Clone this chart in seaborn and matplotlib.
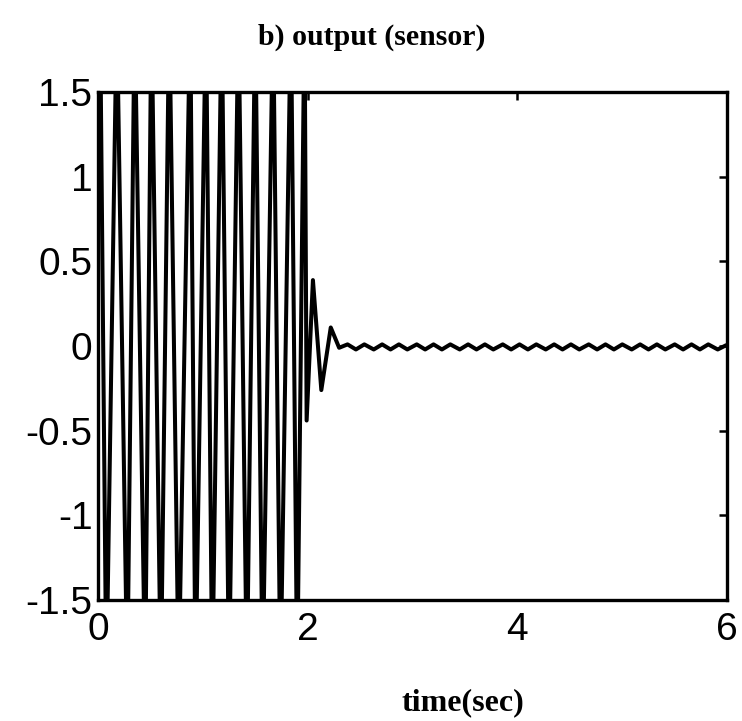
import numpy as np
import pandas as pd
import matplotlib
matplotlib.use("Agg")
import matplotlib.pyplot as plt
import seaborn as sns

# turning points (time in sec, sensor output)
# forced oscillation 0 - 2 sec (peaks clipped by the axis limits)
osc_t = [0.00, 0.02, 0.08, 0.18, 0.28, 0.35, 0.45, 0.51, 0.60, 0.68, 0.77, 0.88, 0.93,
         1.03, 1.09, 1.18, 1.25, 1.34, 1.42, 1.50, 1.57, 1.67, 1.74, 1.84, 1.90, 1.97]
osc_v = [0.90, 2.00, -2.00, 2.00, -2.00, 2.00, -2.00, 2.00, -2.00, 2.00, -2.00, 2.00, -2.00,
         2.00, -2.00, 2.00, -2.00, 2.00, -2.00, 2.00, -2.00, 2.00, -2.00, 2.00, -2.00, 2.00]

# transient after control switches on
tr_t = [1.99, 2.05, 2.13, 2.22, 2.30]
tr_v = [-0.44, 0.39, -0.26, 0.11, -0.01]

# small residual ripple
rip_t = [2.38, 2.46, 2.54, 2.63, 2.71, 2.79, 2.87, 2.95, 3.04, 3.12, 3.20, 3.28, 3.36,
         3.45, 3.53, 3.61, 3.69, 3.77, 3.86, 3.94, 4.02, 4.10, 4.18, 4.27, 4.35, 4.43,
         4.51, 4.59, 4.68, 4.76, 4.84, 4.92, 5.00, 5.09, 5.17, 5.25, 5.33, 5.41, 5.50,
         5.58, 5.66, 5.74, 5.82, 5.91, 5.99]
rip_v = [0.010, -0.020, 0.010, -0.020, 0.010, -0.020, 0.010, -0.020, 0.010, -0.020,
         0.010, -0.020, 0.010, -0.020, 0.010, -0.020, 0.010, -0.020, 0.010, -0.020,
         0.010, -0.020, 0.010, -0.020, 0.010, -0.020, 0.010, -0.020, 0.010, -0.020,
         0.010, -0.020, 0.010, -0.020, 0.010, -0.020, 0.010, -0.020, 0.010, -0.020,
         0.010, -0.020, 0.010, -0.020, 0.005]

xticks = [0, 2, 4, 6]
yticks = [1.5, 1, 0.5, 0, -0.5, -1, -1.5]
ytick_labels = ["1.5", "1", "0.5", "0", "-0.5", "-1", "-1.5"]

df = pd.DataFrame({"time": osc_t + tr_t + rip_t, "y": osc_v + tr_v + rip_v})

sns.set_style("white")
plt.rcParams["font.family"] = ["Liberation Sans", "DejaVu Sans"]

fig = plt.figure(figsize=(7.42, 7.21), dpi=100)
ax = fig.add_axes([0.132, 0.168, 0.848, 0.704])

sns.lineplot(data=df, x="time", y="y", color="black", linewidth=2.9,
             estimator=None, sort=False, ax=ax)

ax.set_xlim(0, 6)
ax.set_ylim(-1.5, 1.5)
ax.set_xticks(xticks)
ax.set_xticklabels([str(v) for v in xticks])
ax.set_yticks(yticks)
ax.set_yticklabels(ytick_labels)
ax.tick_params(direction="in", length=6, width=1.8, labelsize=28,
               top=True, right=True, colors="black")
ax.tick_params(axis="x", pad=9)
ax.tick_params(axis="y", pad=4)
for s in ax.spines.values():
    s.set_linewidth(2.4)
    s.set_color("black")

ax.set_xlabel("")
ax.set_ylabel("")
fig.text(372 / 742, 1 - 37 / 721, "b) output (sensor)", family="Liberation Serif",
         fontsize=21.5, fontweight="bold", color="black", ha="center", va="center")
fig.text(463 / 742, 1 - 703 / 721, "time(sec)", family="Liberation Serif",
         fontsize=23, fontweight="bold", color="black", ha="center", va="center")

fig.savefig("out.png", dpi=100)
